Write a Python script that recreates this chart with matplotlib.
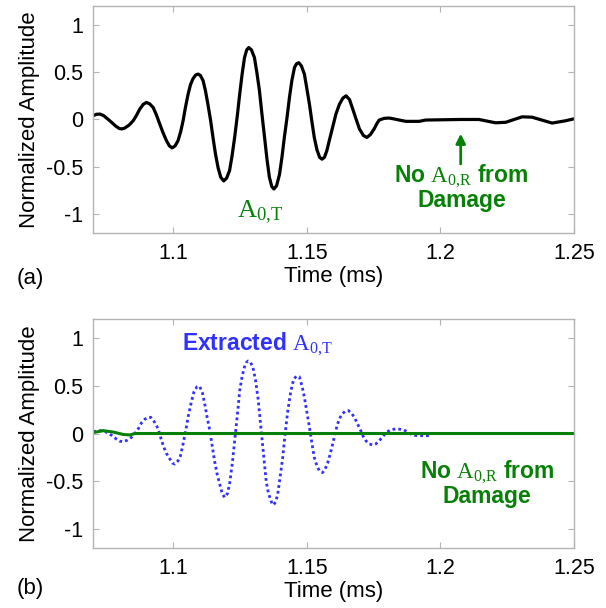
"""
Two-panel waveform chart: measured signal (a) and extracted A0,T wave (b)
"""
import matplotlib
matplotlib.use('Agg')  # Non-interactive backend
import matplotlib.pyplot as plt

plt.rcParams['font.family'] = ['Liberation Sans', 'DejaVu Sans']
plt.rcParams['mathtext.fontset'] = 'custom'
plt.rcParams['mathtext.rm'] = 'Liberation Serif'
plt.rcParams['mathtext.it'] = 'Liberation Serif'

# ---- data ----
# (a) measured signal
time_a = [1.0700, 1.0713, 1.0726, 1.0740, 1.0763, 1.0785, 1.0798, 1.0807, 1.0818,
          1.0835, 1.0850, 1.0862, 1.0875, 1.0888, 1.0900, 1.0912, 1.0925, 1.0937,
          1.0950, 1.0962, 1.0975, 1.0986, 1.0996, 1.1007, 1.1018, 1.1028, 1.1037,
          1.1046, 1.1056, 1.1065, 1.1074, 1.1084, 1.1093, 1.1102, 1.1112, 1.1121,
          1.1130, 1.1140, 1.1149, 1.1158, 1.1168, 1.1178, 1.1189, 1.1200, 1.1211,
          1.1220, 1.1230, 1.1240, 1.1249, 1.1258, 1.1267, 1.1275, 1.1283, 1.1293,
          1.1304, 1.1313, 1.1323, 1.1332, 1.1342, 1.1351, 1.1360, 1.1369, 1.1377,
          1.1387, 1.1398, 1.1407, 1.1416, 1.1426, 1.1435, 1.1444, 1.1454, 1.1462,
          1.1470, 1.1480, 1.1491, 1.1500, 1.1510, 1.1519, 1.1528, 1.1538, 1.1548,
          1.1557, 1.1566, 1.1575, 1.1584, 1.1596, 1.1609, 1.1622, 1.1635, 1.1647,
          1.1660, 1.1672, 1.1685, 1.1697, 1.1712, 1.1725, 1.1738, 1.1752, 1.1763,
          1.1771, 1.1790, 1.1808, 1.1828, 1.1846, 1.1871, 1.1920, 1.1945, 1.2076,
          1.2144, 1.2206, 1.2244, 1.2306, 1.2343, 1.2418, 1.2468, 1.2500]
amp_a = [0.04, 0.055, 0.057, 0.04, -0.014, -0.07, -0.095, -0.10, -0.092,
         -0.06, -0.014, 0.04, 0.11, 0.16, 0.18, 0.165, 0.127, 0.05,
         -0.05, -0.14, -0.225, -0.28, -0.30, -0.28, -0.225, -0.13, -0.014,
         0.13, 0.27, 0.37, 0.43, 0.47, 0.48, 0.465, 0.41, 0.30,
         0.16, -0.01, -0.19, -0.36, -0.51, -0.61, -0.65, -0.62, -0.54,
         -0.39, -0.19, 0.04, 0.27, 0.48, 0.655, 0.735, 0.76, 0.735,
         0.655, 0.50, 0.30, 0.06, -0.19, -0.42, -0.61, -0.71, -0.735,
         -0.70, -0.58, -0.40, -0.19, 0.02, 0.23, 0.41, 0.55, 0.59,
         0.60, 0.565, 0.48, 0.33, 0.16, -0.02, -0.19, -0.32, -0.40,
         -0.42, -0.40, -0.33, -0.225, -0.09, 0.057, 0.16, 0.225, 0.25,
         0.21, 0.11, 0.00, -0.10, -0.17, -0.19, -0.16, -0.10, -0.04,
         -0.006, 0.012, 0.015, 0.005, -0.006, -0.02, -0.02, -0.006, 0.0,
         0.0, -0.035, -0.03, 0.028, 0.024, -0.038, -0.014, 0.007]

# (b) extracted A0,T (dotted)
time_ext = [1.0701, 1.0726, 1.0745, 1.0763, 1.0788, 1.0800, 1.0813, 1.0828, 1.0844,
            1.0856, 1.0869, 1.0881, 1.0894, 1.0905, 1.0916, 1.0930, 1.0944, 1.0953,
            1.0963, 1.0975, 1.0988, 1.0997, 1.1006, 1.1017, 1.1027, 1.1037, 1.1047,
            1.1057, 1.1068, 1.1078, 1.1089, 1.1099, 1.1109, 1.1118, 1.1127, 1.1137,
            1.1146, 1.1155, 1.1164, 1.1174, 1.1184, 1.1193, 1.1203, 1.1211, 1.1221,
            1.1230, 1.1240, 1.1249, 1.1258, 1.1267, 1.1274, 1.1280, 1.1289, 1.1298,
            1.1308, 1.1317, 1.1325, 1.1333, 1.1341, 1.1348, 1.1356, 1.1364, 1.1370,
            1.1375, 1.1383, 1.1391, 1.1400, 1.1410, 1.1419, 1.1429, 1.1440, 1.1451,
            1.1461, 1.1472, 1.1482, 1.1491, 1.1500, 1.1510, 1.1519, 1.1528, 1.1538,
            1.1547, 1.1559, 1.1569, 1.1578, 1.1588, 1.1597, 1.1606, 1.1615, 1.1625,
            1.1634, 1.1645, 1.1656, 1.1667, 1.1678, 1.1690, 1.1702, 1.1711, 1.1721,
            1.1734, 1.1746, 1.1758, 1.1771, 1.1785, 1.1798, 1.1815, 1.1833, 1.1848,
            1.1864, 1.1877, 1.1889, 1.1905, 1.1920, 1.1963]
amp_ext = [0.02, 0.03, 0.02, -0.005, -0.06, -0.08, -0.087, -0.07, -0.04,
           0.0, 0.048, 0.11, 0.15, 0.168, 0.17, 0.12, 0.048, -0.04,
           -0.13, -0.21, -0.27, -0.31, -0.32, -0.29, -0.235, -0.11, 0.03,
           0.19, 0.33, 0.44, 0.49, 0.495, 0.43, 0.31, 0.17, 0.03,
           -0.13, -0.29, -0.42, -0.53, -0.635, -0.67, -0.63, -0.53, -0.32,
           -0.076, 0.19, 0.45, 0.60, 0.70, 0.745, 0.76, 0.745, 0.70,
           0.56, 0.38, 0.16, -0.076, -0.30, -0.50, -0.62, -0.69, -0.735,
           -0.75, -0.72, -0.64, -0.46, -0.25, 0.0, 0.24, 0.44, 0.57,
           0.60, 0.595, 0.50, 0.38, 0.23, 0.065, -0.10, -0.25, -0.34,
           -0.39, -0.41, -0.37, -0.31, -0.21, -0.11, 0.0, 0.10, 0.17,
           0.21, 0.235, 0.24, 0.215, 0.17, 0.10, 0.03, -0.03, -0.076,
           -0.11, -0.12, -0.11, -0.076, -0.03, 0.012, 0.04, 0.048, 0.045,
           0.037, 0.015, -0.005, -0.02, -0.023, -0.023]

# (b) residual (solid green)
time_res = [1.0701, 1.0738, 1.0776, 1.0813, 1.0838, 1.0857, 1.2500]
amp_res = [0.01, 0.03, 0.015, -0.01, -0.015, 0.0, 0.0]

x_ticks = [1.1, 1.15, 1.2, 1.25]
x_tick_labels = ['1.1', '1.15', '1.2', '1.25']
y_ticks = [-1, -0.5, 0, 0.5, 1]
y_tick_labels = ['-1', '-0.5', '0', '0.5', '1']

GREEN = '#078007'
BLUE = '#3030ff'
GRAY = '#b4b4b4'

A0T = r'$\mathrm{A}_{\mathrm{0{,}T}}$'
A0R = r'$\mathrm{A}_{\mathrm{0{,}R}}$'

fig = plt.figure(figsize=(6.06, 6.08), dpi=100)
ax_a = fig.add_axes([0.1535, 0.6168, 0.7937, 0.3734])
ax_b = fig.add_axes([0.1535, 0.0987, 0.7937, 0.3766])


def style_axes(ax):
    ax.set_xlim(1.07, 1.25)
    ax.set_ylim(-1.2, 1.2)
    ax.set_xticks(x_ticks)
    ax.set_xticklabels(x_tick_labels)
    ax.set_yticks(y_ticks)
    ax.set_yticklabels(y_tick_labels)
    ax.tick_params(direction='in', length=4.5, width=0.8, color=GRAY,
                   labelsize=15.5, pad=7, top=True, right=True)
    for s in ax.spines.values():
        s.set_color(GRAY)
        s.set_linewidth(1.0)
    ax.set_xlabel('Time (ms)', fontsize=16, labelpad=2)
    ax.set_ylabel('Normalized Amplitude', fontsize=16, labelpad=4)


# ---- panel (a) ----
ax_a.plot(time_a, amp_a, color='black', lw=2.3, solid_joinstyle='round')
style_axes(ax_a)
ax_a.text(1.1237, -1.04, A0T, color=GREEN, fontsize=19, ha='left', va='baseline')
ax_a.annotate('', xy=(1.2076, -0.15), xytext=(1.2076, -0.47),
              arrowprops=dict(arrowstyle='-|>', color=GREEN, lw=2,
                              mutation_scale=14, shrinkA=0, shrinkB=0))
ax_a.text(1.2079, -0.72, 'No ' + A0R + ' from\nDamage',
          color=GREEN, fontsize=16.5, fontweight='bold', ha='center', va='center',
          linespacing=0.95)

# ---- panel (b) ----
ax_b.plot(time_ext, amp_ext, color=BLUE, lw=2.0, linestyle=(0, (1, 1.1)))
ax_b.plot(time_res, amp_res, color=GREEN, lw=2.2)
style_axes(ax_b)
ax_b.text(1.1032, 0.876, 'Extracted ' + A0T, color=BLUE,
          fontsize=16.5, fontweight='bold', ha='left', va='baseline')
ax_b.text(1.2175, -0.52, 'No ' + A0R + ' from\nDamage',
          color=GREEN, fontsize=16.5, fontweight='bold', ha='center', va='center',
          linespacing=0.95)

fig.text(17 / 606, 1 - 284 / 608, '(a)', fontsize=16, va='baseline')
fig.text(17 / 606, 1 - 594 / 608, '(b)', fontsize=16, va='baseline')

fig.savefig('out.png', dpi=100)
plt.close(fig)
